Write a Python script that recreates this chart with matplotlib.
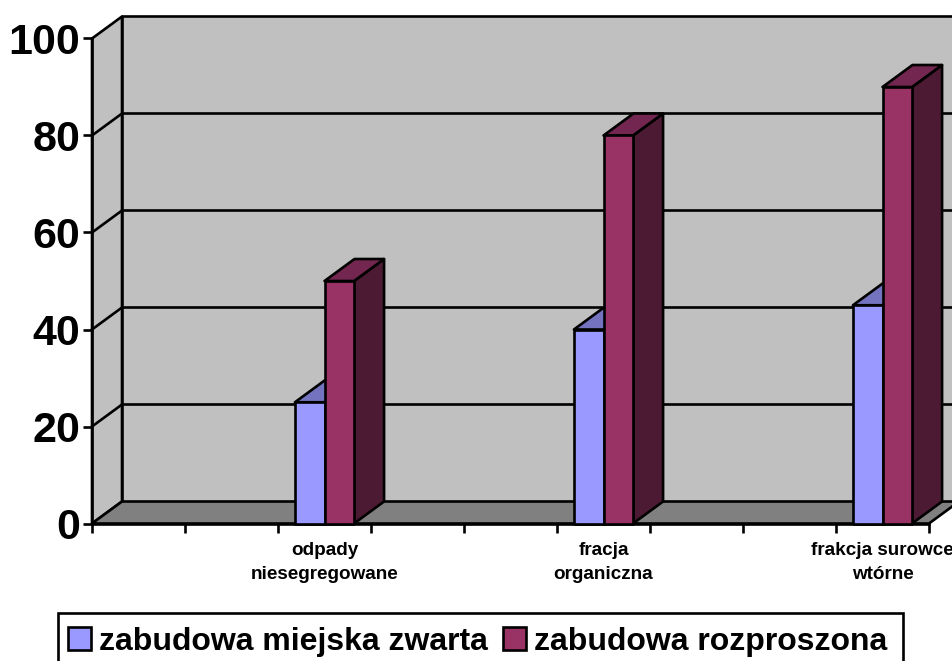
#!/usr/bin/env python3
"""3D-look clustered columns, drawn as flat polygons with a fixed depth offset."""

import matplotlib

matplotlib.use("Agg")
import matplotlib.pyplot as plt
import numpy as np
from matplotlib.patches import Patch, Rectangle

W, H = 953, 661

# nine slots on the axis, only every third one holds data
category_labels = ["", "", "odpady\nniesegregowane", "", "", "fracja\norganiczna", "", "", "frakcja surowce\nwtórne"]
zwarta = [np.nan, np.nan, 25, np.nan, np.nan, 40, np.nan, np.nan, 45]
rozproszona = [np.nan, np.nan, 50, np.nan, np.nan, 80, np.nan, np.nan, 90]
y_ticks = [0, 20, 40, 60, 80, 100]
series_names = ["zabudowa miejska zwarta", "zabudowa rozproszona"]

BLUE = ("#9999FF", "#7373BF", "#4D4D80")
RED = ("#993366", "#732650", "#4D1A33")
WALL = "#C0C0C0"
FLOOR = "#808080"
LW = 1.9

plt.rcParams["font.family"] = ["Liberation Sans", "DejaVu Sans"]
plt.rcParams["font.weight"] = "bold"

fig = plt.figure(figsize=(W / 100, H / 100), dpi=100)
ax = fig.add_axes([92 / W, (H - 523.5) / H, 837 / W, 485 / H])
ax.set_xlim(0, len(category_labels))
ax.set_ylim(0, 100)
ax.patch.set_visible(False)

# depth of the box and bars, in data units
DX = 30 / 93
DY = 22 / 4.85
BAR_W = 0.318


def poly(xs, ys, color, z):
    ax.fill(xs, ys, facecolor=color, edgecolor="black", lw=LW, clip_on=False, zorder=z, joinstyle="round")


n = len(category_labels)
poly([0, DX, DX, 0], [0, DY, 100 + DY, 100], WALL, 1)
poly([DX, n + DX, n + DX, DX], [DY, DY, 100 + DY, 100 + DY], WALL, 1)
poly([0, n, n + DX, DX], [0, 0, DY, DY], FLOOR, 1)

for v in y_ticks[1:-1]:
    ax.plot([0, DX, n + DX], [v, v + DY, v + DY], color="black", lw=LW, clip_on=False, zorder=2)


def column(x0, v, shades, z):
    front, top, side = shades
    x1 = x0 + BAR_W
    poly([x1, x1 + DX, x1 + DX, x1], [0, DY, v + DY, v], side, z)
    poly([x0, x1, x1 + DX, x0 + DX], [v, v, v + DY, v + DY], top, z)
    poly([x0, x1, x1, x0], [0, 0, v, v], front, z)


for i in range(n):
    if np.isnan(zwarta[i]):
        continue
    c = i + 0.5
    column(c - BAR_W, zwarta[i], BLUE, 3)
    column(c, rozproszona[i], RED, 4)

for s in ("top", "right"):
    ax.spines[s].set_visible(False)
for s in ("left", "bottom"):
    ax.spines[s].set_linewidth(LW)
ax.set_axisbelow(True)

ax.set_yticks(y_ticks)
ax.tick_params(axis="y", length=6.5, width=LW, labelsize=31, pad=2)
ax.set_xticks(np.arange(n + 1))
ax.set_xticklabels([])
ax.tick_params(axis="x", which="major", length=6.5, width=LW)
ax.set_xticks(np.arange(n) + 0.5, minor=True)
ax.set_xticklabels(category_labels, minor=True, fontsize=13.6, linespacing=1.58)
ax.tick_params(axis="x", which="minor", length=0, pad=13)

# legend frame runs off the bottom of the picture, so it is drawn separately
fig.add_artist(
    Rectangle(
        (58 / W, (H - 670) / H),
        845 / W,
        57 / H,
        transform=fig.transFigure,
        facecolor="white",
        edgecolor="black",
        lw=LW,
    )
)
handles = [
    Patch(facecolor=BLUE[0], edgecolor="black", lw=LW, label=series_names[0]),
    Patch(facecolor=RED[0], edgecolor="black", lw=LW, label=series_names[1]),
]
fig.legend(
    handles=handles,
    loc="center left",
    bbox_to_anchor=(58 / W, (H - 642) / H),
    ncol=2,
    fontsize=23,
    frameon=False,
    handlelength=0.72,
    handleheight=0.72,
    handletextpad=0.25,
    columnspacing=0.48,
    borderpad=0.3,
    borderaxespad=0,
)

fig.savefig("out.png", dpi=100)
